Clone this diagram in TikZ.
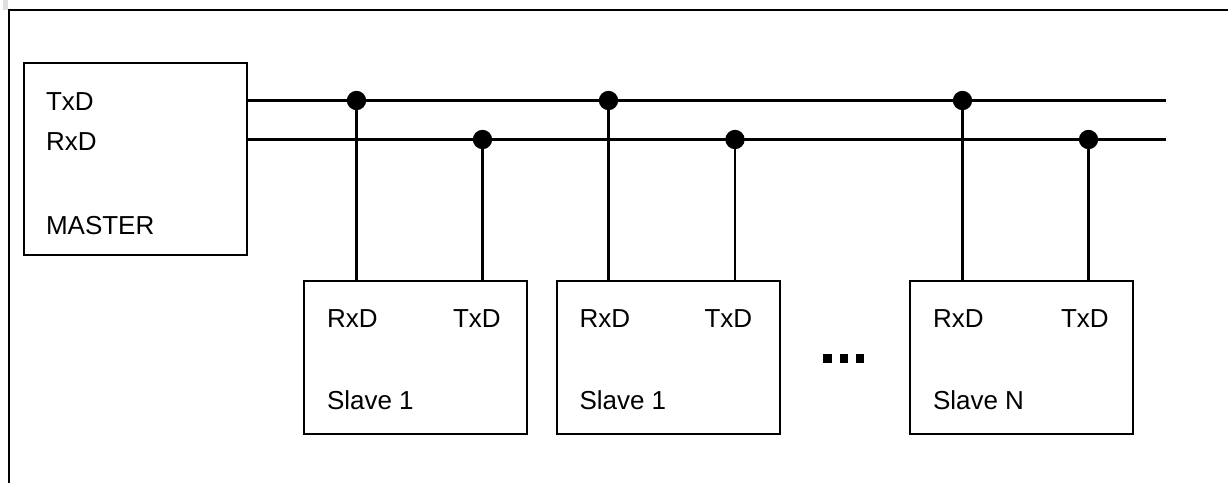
\documentclass[tikz,border=0pt]{standalone}
\usepackage{fontspec}
\setmainfont{Liberation Sans}
\begin{document}
\begin{tikzpicture}[x=0.75pt,y=-0.75pt,line width=1.5pt,
  box/.style={draw,inner sep=0pt,outer sep=0pt,minimum width=167.25pt},
  lbl/.style={anchor=base west,inner sep=0pt,font=\fontsize{19.5}{22}\selectfont},
  dot/.style={circle,fill,inner sep=0pt,outer sep=0pt,minimum size=14.5pt},
  wire/.style={line width=1.6pt},
  ellip/.style={fill,inner sep=0pt,outer sep=0pt,minimum size=6.5pt}]
\useasboundingbox (0,0) rectangle (1228,483);
% frame
\fill[gray!25] (3,0) rectangle (8,10);
\coordinate (fbl) at (9,483);
\coordinate (ftl) at (9,10);
\coordinate (ftr) at (1228,10);
\draw[line width=1.7pt] (fbl) -- (ftl) -- (ftr);
% master
\node[box,minimum height=144pt] (master) at (135.2,159.2) {};
\node[lbl] (mtx) at (45,110) {TxD};
\node[lbl] (mrx) at (45,150) {RxD};
\node[lbl] (mname) at (45,234) {MASTER};
% slaves
\node[box,minimum height=114.75pt] (s1) at (415.5,357.5) {};
\node[box,minimum height=114.75pt] (s2) at (668.5,357.5) {};
\node[box,minimum height=114.75pt] (sn) at (1021.5,357.5) {};
\node[lbl] (s1rx) at (326,327) {RxD};
\node[lbl] (s1tx) at (452,327) {TxD};
\node[lbl] (s1n) at (326,409) {Slave 1};
\node[lbl] (s2rx) at (578.5,327) {RxD};
\node[lbl] (s2tx) at (703.5,327) {TxD};
\node[lbl] (s2n) at (578.5,409) {Slave 1};
\node[lbl] (snrx) at (932,327) {RxD};
\node[lbl] (sntx) at (1060,327) {TxD};
\node[lbl] (snn) at (932,409) {Slave N};
% bus
\coordinate (txs) at (master.east |- 0,100.5);
\coordinate (rxs) at (master.east |- 0,139.5);
\coordinate (txe) at (1166,100.5);
\coordinate (rxe) at (1166,139.5);
\draw[wire] (txs) -- (txe);
\draw[wire] (rxs) -- (rxe);
% taps
\node[dot] (d1t) at (356.5,100.5) {};
\node[dot] (d1r) at (482.5,139.5) {};
\node[dot] (d2t) at (608.5,100.5) {};
\node[dot] (d2r) at (735,139.5) {};
\node[dot] (dnt) at (962.5,100.5) {};
\node[dot] (dnr) at (1088.5,139.5) {};
\draw[wire] (d1t.center) -- (d1t.center |- s1.north);
\draw[wire] (d1r.center) -- (d1r.center |- s1.north);
\draw[wire] (d2t.center) -- (d2t.center |- s2.north);
\draw[wire] (d2r.center) -- (d2r.center |- s2.north);
\draw[wire] (dnt.center) -- (dnt.center |- sn.north);
\draw[wire] (dnr.center) -- (dnr.center |- sn.north);
% ellipsis
\node[ellip] (e1) at (827.5,358.5) {};
\node[ellip] (e2) at (844,358.5) {};
\node[ellip] (e3) at (860,358.5) {};
\end{tikzpicture}
\end{document}
